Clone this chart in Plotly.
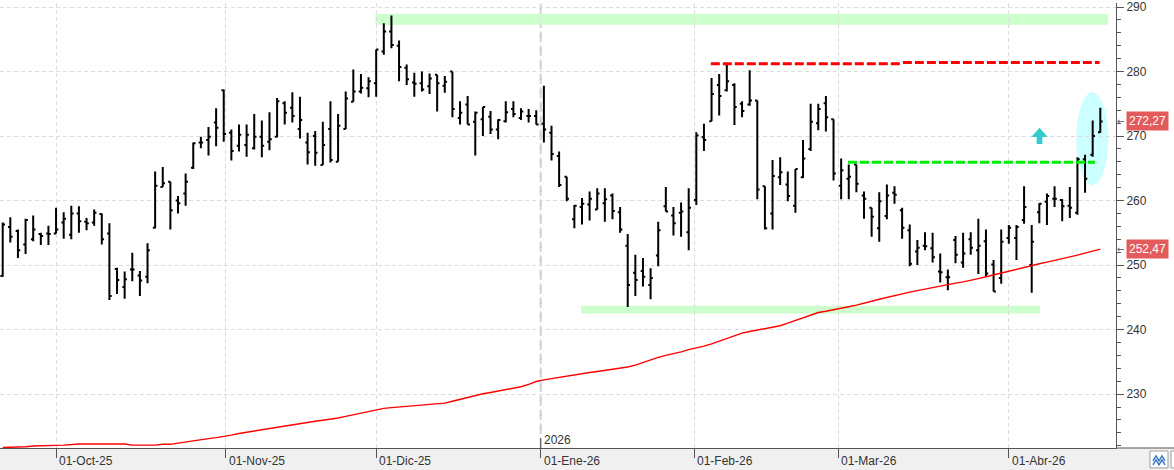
import plotly.graph_objects as go

# ---------------- data ----------------
opens = [248.3, 255.9, 255.3, 253.2, 254.0, 254.8, 254.9, 254.9, 256.6, 254.7,
         258.0, 256.7, 256.6, 257.9, 254.9, 249.4, 246.6, 249.3, 248.4, 248.2,
         255.8, 262.1, 262.9, 260.0, 261.1, 265.1, 269.0, 269.4, 272.1, 277.1,
         270.5, 268.5, 268.6, 268.1, 269.9, 269.1, 269.9, 275.1, 274.4, 271.1,
         269.0, 270.0, 265.5, 271.1, 266.0, 271.1, 275.3, 276.9, 277.4, 278.2,
         283.1, 286.2, 284.0, 280.6, 278.3, 278.2, 277.7, 279.5, 277.8, 280.0,
         272.8, 274.9, 272.2, 272.6, 273.0, 271.0, 272.3, 274.2, 272.8, 273.1,
         273.1, 271.9, 270.5, 266.9, 263.7, 257.1, 259.0, 259.4, 258.6, 259.6,
         260.8, 258.2, 253.0, 248.8, 249.1, 246.9, 251.5, 259.1, 257.7, 258.1,
         255.1, 260.1, 269.8, 272.3, 277.9, 277.1, 277.9, 275.0, 274.9, 275.5,
         262.2, 258.0, 263.6, 262.5, 259.2, 263.6, 268.0, 272.0, 275.1, 272.6,
         262.3, 263.4, 265.6, 260.8, 258.9, 255.7, 257.6, 261.2, 258.5, 255.4,
         252.1, 253.0, 252.6, 249.0, 248.1, 253.9, 250.4, 254.0, 252.3, 253.7,
         250.1, 248.0, 254.2, 254.2, 257.0, 250.0, 258.2, 259.8, 260.3, 260.1,
         259.2, 258.1, 266.4, 267.1, 270.6]
highs = [256.6, 257.4, 255.5, 257.2, 257.7, 255.0, 256.1, 258.9, 258.2, 259.2,
         259.1, 257.3, 258.6, 258.0, 256.5, 249.6, 249.0, 251.9, 249.1, 253.4,
         264.5, 265.2, 262.9, 260.7, 264.2, 269.0, 269.9, 271.4, 274.3, 277.2,
         271.0, 271.8, 271.8, 273.4, 272.4, 273.7, 275.9, 275.4, 276.8, 276.1,
         270.5, 270.8, 272.2, 275.4, 273.4, 276.9, 280.3, 279.6, 279.1, 283.4,
         287.5, 288.7, 284.8, 281.1, 279.8, 280.0, 279.7, 279.5, 279.3, 280.0,
         275.4, 276.2, 273.8, 274.5, 273.9, 272.6, 275.4, 275.4, 274.3, 274.2,
         274.0, 277.8, 271.6, 267.6, 263.7, 259.3, 260.4, 261.4, 261.9, 261.9,
         261.1, 259.0, 254.8, 251.6, 251.1, 249.5, 256.7, 262.1, 259.0, 259.7,
         261.9, 270.6, 271.9, 279.0, 279.6, 281.0, 278.2, 275.4, 280.2, 275.5,
         262.2, 266.3, 266.7, 264.5, 264.9, 269.4, 275.0, 275.0, 276.2, 272.6,
         266.5, 265.6, 265.6, 261.4, 258.9, 261.3, 262.5, 262.2, 258.9, 256.3,
         253.9, 255.1, 255.0, 251.8, 249.3, 254.5, 255.0, 255.1, 257.2, 255.5,
         250.8, 255.5, 256.2, 256.2, 262.2, 256.2, 259.6, 261.1, 262.2, 260.2,
         262.1, 266.7, 267.1, 272.4, 274.4]
lows = [248.2, 253.5, 251.1, 251.7, 253.7, 253.1, 253.1, 254.9, 254.1, 254.0,
        255.0, 255.4, 256.1, 253.2, 244.6, 245.5, 244.8, 247.5, 245.2, 247.2,
        255.7, 262.1, 255.5, 258.0, 259.2, 264.9, 268.1, 267.0, 268.4, 269.1,
        266.2, 267.6, 266.8, 267.9, 266.7, 267.8, 269.8, 271.8, 272.1, 269.6,
        265.6, 265.4, 265.5, 265.9, 266.0, 271.1, 275.3, 276.6, 276.0, 276.1,
        282.6, 283.6, 278.5, 277.9, 276.1, 276.9, 276.5, 273.8, 276.7, 272.9,
        271.8, 271.8, 267.0, 270.0, 270.3, 269.5, 272.1, 272.9, 272.5, 272.1,
        271.8, 269.0, 266.2, 262.1, 259.9, 255.7, 256.3, 256.9, 258.6, 256.7,
        257.1, 255.0, 243.5, 245.2, 246.7, 244.7, 249.8, 258.3, 254.6, 254.4,
        252.3, 259.3, 267.7, 272.3, 273.2, 276.9, 271.7, 272.9, 274.7, 260.2,
        255.5, 255.5, 262.4, 259.9, 258.1, 263.5, 267.7, 270.9, 270.7, 263.1,
        260.2, 260.2, 261.3, 257.2, 254.4, 253.6, 257.1, 259.5, 254.1, 249.8,
        250.0, 252.3, 250.4, 247.3, 246.1, 250.3, 249.6, 251.6, 248.6, 248.2,
        245.9, 247.1, 253.3, 250.8, 256.4, 245.7, 256.5, 256.2, 259.0, 256.8,
        257.3, 257.8, 261.2, 266.8, 270.5]
closes = [256.3, 254.4, 252.3, 257.0, 255.5, 254.5, 254.8, 255.5, 257.2, 258.0,
          256.8, 256.5, 258.1, 254.0, 245.2, 247.7, 247.8, 249.3, 247.6, 252.3,
          262.3, 262.7, 258.5, 259.6, 262.9, 268.9, 269.0, 269.9, 271.3, 270.3,
          267.7, 270.2, 270.2, 269.9, 268.5, 269.5, 275.4, 273.6, 273.1, 272.5,
          267.5, 267.4, 268.6, 266.3, 271.6, 275.8, 276.9, 277.5, 278.5, 283.4,
          286.2, 284.1, 280.7, 278.8, 278.1, 277.2, 278.9, 278.2, 278.4, 274.2,
          273.6, 271.8, 273.6, 274.5, 271.0, 272.5, 273.7, 273.4, 273.8, 273.1,
          271.8, 271.0, 267.2, 262.4, 260.3, 259.2, 259.5, 260.3, 261.1, 260.2,
          258.4, 255.5, 246.9, 247.7, 248.2, 248.0, 255.4, 258.3, 256.5, 258.3,
          258.9, 270.1, 269.4, 276.5, 276.2, 278.5, 274.5, 273.9, 275.5, 261.7,
          255.7, 263.8, 264.4, 260.7, 264.9, 266.5, 272.2, 274.2, 272.9, 264.2,
          264.7, 263.7, 262.6, 260.3, 257.5, 259.9, 260.8, 260.9, 255.8, 250.2,
          252.7, 252.9, 251.2, 248.9, 248.1, 251.6, 251.8, 252.7, 253.0, 248.7,
          245.9, 253.6, 255.8, 255.9, 259.0, 253.6, 259.5, 260.7, 260.3, 259.1,
          258.9, 266.4, 263.4, 270.0, 272.27]
ma200 = [221.72, 221.74, 221.78, 221.85, 221.95, 222.02, 222.05, 222.05, 222.1, 222.22,
         222.26, 222.26, 222.26, 222.26, 222.26, 222.26, 222.26, 222.1, 222.1, 222.1,
         222.1, 222.22, 222.22, 222.4, 222.6, 222.8, 222.95, 223.1, 223.25, 223.4,
         223.65, 223.9, 224.1, 224.3, 224.5, 224.7, 224.9, 225.1, 225.3, 225.5,
         225.65, 225.8, 225.95, 226.1, 226.3, 226.55, 226.8, 227.05, 227.3, 227.6,
         227.8, 227.9, 228.0, 228.1, 228.2, 228.3, 228.4, 228.5, 228.6, 228.9,
         229.2, 229.5, 229.85, 230.05, 230.25, 230.45, 230.65, 230.85, 231.15, 231.5,
         231.95, 232.2, 232.4, 232.6, 232.8, 233.05, 233.2, 233.35, 233.5, 233.65,
         233.85, 234.0, 234.2, 234.5, 234.9, 235.4, 235.7, 236.0, 236.25, 236.55,
         236.9, 237.15, 237.45, 237.8, 238.2, 238.65, 239.1, 239.45, 239.7, 239.95,
         240.15, 240.4, 240.6, 241.0, 241.4, 241.85, 242.25, 242.65, 242.85, 243.05,
         243.3, 243.55, 243.8, 244.05, 244.4, 244.7, 245.0, 245.3, 245.55, 245.8,
         246.05, 246.3, 246.55, 246.75, 247.0, 247.2, 247.4, 247.6, 247.9, 248.2,
         248.5, 248.8, 249.05, 249.35, 249.65, 249.95, 250.2, 250.45, 250.7, 250.95,
         251.25, 251.55, 251.85, 252.2, 252.47]

# month ticks (position in trading-bar units) and labels
tick_pos = [7, 29.26, 49, 70.58, 90.74, 109.63, 132]
tick_text = ["01-Oct-25", "01-Nov-25", "01-Dic-25", "01-Ene-26", "01-Feb-26", "01-Mar-26", "01-Abr-26"]
year_label = "2026"
year_tick = 70.58

# drawn levels
top_band = (48.9, 145.0, 287.23, 288.92)
bottom_band = (75.9, 136.1, 242.5, 243.69)
red_levels = [(92.9, 117.7, 281.2), (118.1, 143.9, 281.4)]
green_level = (110.9, 143.3, 265.95)
ellipse = (140.85, 145.05, 262.35, 276.77)
arrow = dict(xl=134.95, xc=136.03, xr=137.1, sl=135.65, sr=136.4, tip=271.3, base=269.85, bottom=268.75)

last_price = closes[-1]
last_ma = ma200[-1]

# ---------------- figure ----------------
W, H = 1174, 470
ML, MR, MT, MB = 0, 58, 0, 22
PW, PH = W - ML - MR, H - MT - MB
X_RANGE = [-0.354, 146.06]
Y_RANGE = [221.65, 290.62]
FONT = "Liberation Sans, Arial, sans-serif"

def px2px(px):  # pixel x -> paper x
    return (px - ML) / PW

def py2py(py):  # pixel y -> paper y
    return (H - MB - py) / PH

x = list(range(len(closes)))
fig = go.Figure()
fig.add_trace(go.Ohlc(
    x=x, open=opens, high=highs, low=lows, close=closes,
    increasing=dict(line=dict(color="black", width=2)),
    decreasing=dict(line=dict(color="black", width=2)),
    tickwidth=0.3, hoverinfo="skip", showlegend=False))
fig.add_trace(go.Scatter(
    x=x, y=ma200, mode="lines", line=dict(color="#ff0000", width=1.4),
    hoverinfo="skip", showlegend=False))

shapes = []
# bottom gray axis band
shapes.append(dict(type="rect", xref="paper", yref="paper", x0=px2px(-2), x1=px2px(W + 2),
                   y0=py2py(H + 2), y1=0, fillcolor="#f0f0f0", line=dict(width=0), layer="below"))
shapes.append(dict(type="line", xref="paper", yref="paper", x0=1, x1=px2px(W + 2), y0=0, y1=0,
                   line=dict(color="#555555", width=1)))
# green bands
for b in (top_band, bottom_band):
    shapes.append(dict(type="rect", xref="x", yref="y", x0=b[0], x1=b[1], y0=b[2], y1=b[3],
                       fillcolor="#ccffcc", line=dict(width=0), layer="below"))
# ellipse
shapes.append(dict(type="circle", xref="x", yref="y", x0=ellipse[0], x1=ellipse[1],
                   y0=ellipse[2], y1=ellipse[3], fillcolor="#ccffff", line=dict(width=0), layer="below"))
# year separator
shapes.append(dict(type="line", xref="x", yref="paper", x0=year_tick, x1=year_tick, y0=0, y1=1,
                   line=dict(color="#c8c8c8", width=2, dash="10px,4px"), layer="below"))
shapes.append(dict(type="line", xref="x", yref="paper", x0=year_tick, x1=year_tick, y0=0, y1=py2py(438),
                   line=dict(color="#555555", width=1)))
# dashed levels
for a, b, lv in red_levels:
    shapes.append(dict(type="line", xref="x", yref="y", x0=a, x1=b, y0=lv, y1=lv,
                       line=dict(color="#ff0000", width=3, dash="9px,3px")))
shapes.append(dict(type="line", xref="x", yref="y", x0=green_level[0], x1=green_level[1],
                   y0=green_level[2], y1=green_level[2],
                   line=dict(color="#00ee00", width=3, dash="9px,3px")))
# up arrow
a = arrow
path = (f"M {a['xl']},{a['base']} L {a['xc']},{a['tip']} L {a['xr']},{a['base']} "
        f"L {a['sr']},{a['base']} L {a['sr']},{a['bottom']} L {a['sl']},{a['bottom']} "
        f"L {a['sl']},{a['base']} Z")
shapes.append(dict(type="path", xref="x", yref="y", path=path, fillcolor="#33cccc",
                   line=dict(width=0)))
# bottom-right icons
shapes.append(dict(type="rect", xref="paper", yref="paper", x0=px2px(1150), x1=px2px(1168),
                   y0=py2py(468), y1=py2py(451), fillcolor="white", line=dict(color="#a0a0a0", width=1)))
zig = [(1153, 461), (1156, 456), (1159, 461), (1162, 456), (1165, 461)]
zig2 = [(p[0], p[1] + 4) for p in zig]
for zz in (zig, zig2):
    pth = "M " + " L ".join(f"{px2px(p[0])},{py2py(p[1])}" for p in zz)
    shapes.append(dict(type="path", xref="paper", yref="paper", path=pth,
                       line=dict(color="#3c78c8", width=1.5)))
shapes.append(dict(type="rect", xref="paper", yref="paper", x0=px2px(1171), x1=px2px(1180),
                   y0=py2py(468), y1=py2py(451), fillcolor="white", line=dict(color="#a0a0a0", width=1)))

annotations = []
for p, t in zip(tick_pos, tick_text):
    annotations.append(dict(x=p, xref="x", y=py2py(461), yref="paper", text=t, showarrow=False,
                            xanchor="left", yanchor="middle", xshift=1,
                            font=dict(family=FONT, size=12, color="#333333")))
annotations.append(dict(x=year_tick, xref="x", y=py2py(440), yref="paper", text=year_label,
                        showarrow=False, xanchor="left", yanchor="middle", xshift=1,
                        font=dict(family=FONT, size=12, color="#333333")))
for val in (last_price, last_ma):
    annotations.append(dict(x=px2px(1126), xref="paper", y=val, yref="y",
                            text=f"{val:.2f}".replace(".", ","), showarrow=False,
                            xanchor="left", yanchor="middle", bgcolor="#e35b5b", borderpad=2,
                            font=dict(family=FONT, size=12, color="white")))
    annotations.append(dict(x=px2px(1120.5), xref="paper", y=val, yref="y", text="←",
                            showarrow=False, xanchor="center", yanchor="middle",
                            font=dict(family="DejaVu Sans", size=9, color="#555555")))

fig.update_layout(
    width=W, height=H, margin=dict(l=ML, r=MR, t=MT, b=MB),
    paper_bgcolor="white", plot_bgcolor="white", showlegend=False,
    shapes=shapes, annotations=annotations, hovermode=False,
    xaxis=dict(range=X_RANGE, rangeslider=dict(visible=False), tickmode="array",
               tickvals=tick_pos, showticklabels=False, ticks="outside", ticklen=9,
               tickcolor="#555555", showgrid=True, gridcolor="#dcdcdc", griddash="4px,3px",
               gridwidth=1, showline=True, linecolor="#555555", linewidth=1, zeroline=False,
               fixedrange=True),
    yaxis=dict(range=Y_RANGE, side="right", tickmode="linear", tick0=0, dtick=10,
               ticks="outside", ticklen=7, tickcolor="#555555", ticklabeloverflow="allow",
               minor=dict(dtick=2, ticks="outside", ticklen=4, tickcolor="#555555", showgrid=False),
               showgrid=True, gridcolor="#dcdcdc", griddash="4px,3px", gridwidth=1,
               showline=True, linecolor="#555555", linewidth=1, zeroline=False,
               tickfont=dict(family=FONT, size=12, color="#333333"),
               fixedrange=True),
)

fig.write_html("out.html", config={"displayModeBar": False},
               post_script="document.body.style.margin='0';document.body.style.overflow='hidden';")
